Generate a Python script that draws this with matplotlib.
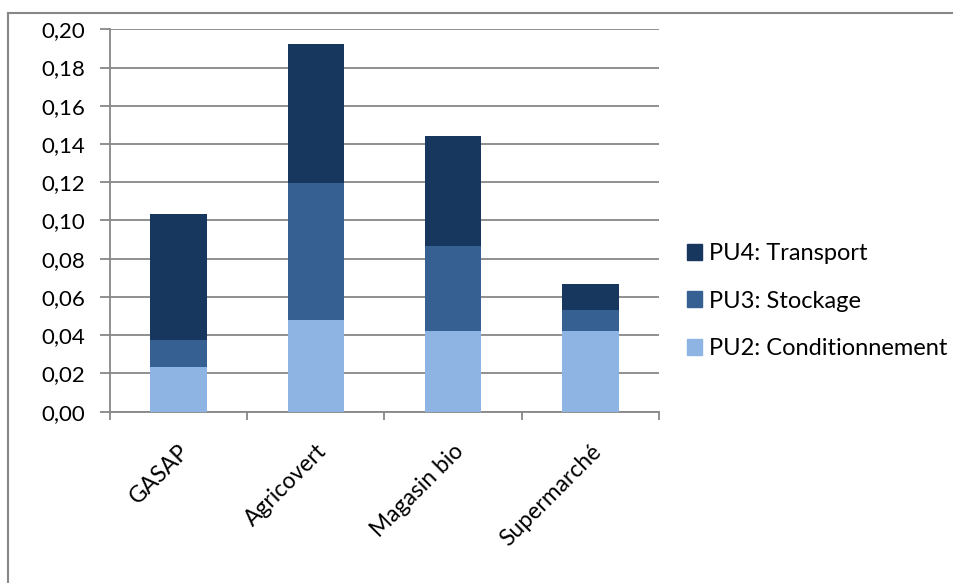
import numpy as np
import matplotlib.pyplot as plt
from matplotlib.patches import Patch
from matplotlib.lines import Line2D

plt.rcParams['font.family'] = ['Lato', 'DejaVu Sans']

## Cost per unit, stacked by step
categories = ['GASAP', 'Agricovert', 'Magasin bio', 'Supermarché']
pu2 = [0.0234, 0.0480, 0.0423, 0.0423]   # Conditionnement
pu3 = [0.0141, 0.0717, 0.0445, 0.0109]   # Stockage
pu4 = [0.0660, 0.0728, 0.0575, 0.0137]   # Transport
series = [('PU2: Conditionnement', pu2, '#8EB4E3'),
          ('PU3: Stockage', pu3, '#376092'),
          ('PU4: Transport', pu4, '#17375E')]
yticks = np.arange(0, 0.201, 0.02)

W, H = 954, 583
fig = plt.figure(figsize=(W / 100, H / 100), dpi=100)
# outer chart frame (only top and left edges fall inside the image)
fig.add_artist(Line2D([8 / W, 1.0], [1 - 13 / H, 1 - 13 / H], color='#878787', lw=1.5))
fig.add_artist(Line2D([8 / W, 8 / W], [0, 1 - 13 / H], color='#878787', lw=1.5))
ax = fig.add_axes([110 / W, 1 - 411.7 / H, (659 - 110) / W, (411.7 - 29.3) / H])

x = np.arange(len(categories))
bottom = np.zeros(len(categories))
for name, vals, col in series:
    ax.bar(x, vals, 0.41, bottom=bottom, color=col, zorder=3, label=name)
    bottom += np.array(vals)

ax.set_xlim(-0.5, len(categories) - 0.5)
ax.set_ylim(0, 0.20)
ax.set_yticks(yticks)
ax.yaxis.set_major_formatter(plt.FuncFormatter(lambda v, p: ('%.2f' % v).replace('.', ',')))
ax.grid(axis='y', color='#878787', lw=1.3, zorder=0)
ax.tick_params(axis='y', length=7, width=1.3, color='#878787', labelsize=16, pad=11)

# category boundary ticks below the x axis, names at the centres
ax.set_xticks(np.arange(-0.5, len(categories), 1.0))
ax.set_xticklabels([])
ax.set_xticks(x, minor=True)
ax.set_xticklabels(categories, minor=True, rotation=45, ha='right', va='top',
                   rotation_mode='anchor', fontsize=16.5)
ax.tick_params(axis='x', which='major', length=6, width=1.3, color='#878787')
ax.tick_params(axis='x', which='minor', length=0, pad=21)

for s in ['top', 'right']:
    ax.spines[s].set_visible(False)
for s in ['left', 'bottom']:
    ax.spines[s].set_color('#878787')
    ax.spines[s].set_linewidth(1.3)

handles = [Patch(color=c) for _, _, c in series][::-1]
labels = [n for n, _, _ in series][::-1]
fig.legend(handles, labels, loc='center left', bbox_to_anchor=(687 / W, 1 - 301 / H),
           frameon=False, fontsize=17, handlelength=0.65, handleheight=0.65,
           handletextpad=0.3, labelspacing=1.12, borderaxespad=0, borderpad=0)

fig.savefig('out.png', dpi=100)
